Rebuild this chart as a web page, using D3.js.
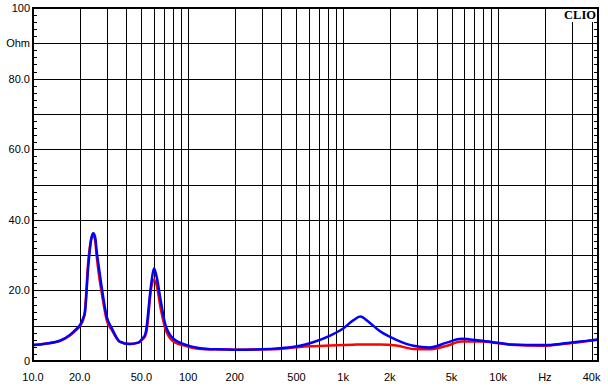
<!DOCTYPE html>
<html>
<head>
<meta charset="utf-8">
<script src="https://cdn.jsdelivr.net/npm/d3@7"></script>
<style>
  body { margin: 0; background: #fff; }
  svg { display: block; }
  text { font-family: "Liberation Sans", Arial, sans-serif; font-size: 11px; fill: #000; }
</style>
</head>
<body>
<svg id="chart" width="608" height="389"></svg>
<script>
// frequency points (Hz) shared by both traces
var freq = [10, 12, 15, 17.3, 19, 20.1, 21, 21.6, 22.7, 23.9, 24.5, 25.2, 25.7, 26.7, 27.7, 29.9, 32.2, 36.3,
    42, 47.8, 51, 52.8, 54, 55.5, 57, 58.3, 60.3, 62.7, 66.5, 71, 80, 98, 117, 150, 200, 300, 390, 527,
    640, 825, 1000, 1160, 1290, 1450, 1730, 2200, 2840, 3600, 4650, 5800, 7600, 9800, 12000, 19500,
    27000, 37000, 44000];

// impedance (Ohm), blue trace
var blueOhm = [4.5, 4.9, 5.8, 7.4, 9.0, 10.2, 12, 13.6, 26.7, 35.2, 36.2, 35, 31.4, 26, 21, 12.5, 9.3, 5.5,
    4.8, 5.2, 6.5, 7.4, 9.5, 14.4, 19.5, 23, 26.3, 23.9, 17.3, 10.7, 6.4, 4.5, 3.7, 3.3, 3.2, 3.3, 3.6, 4.3,
    5.3, 7.2, 9.2, 11.5, 12.6, 11.2, 8.4, 6.0, 4.3, 3.8, 5.2, 6.3, 5.8, 5.2, 4.7, 4.5, 5.0, 5.7, 6.1];

// impedance (Ohm), red trace
var redOhm = [4.5, 4.9, 5.7, 7.2, 8.8, 10, 11.5, 14, 28, 35, 35.5, 34, 30, 24, 19.5, 11.5, 8.8, 5.4,
    4.8, 5.2, 6.2, 7, 8.5, 13, 18.5, 21.5, 23.1, 21.5, 15, 9.5, 5.6, 4.2, 3.5, 3.3, 3.2, 3.3, 3.4, 4.0,
    4.2, 4.4, 4.5, 4.6, 4.7, 4.7, 4.7, 4.4, 3.4, 3.3, 4.3, 5.5, 5.5, 5.1, 4.6, 4.3, 4.9, 5.6, 6.0];

var xTickValues = [10, 20, 50, 100, 200, 500, 1000, 2000, 5000, 10000, 20000, 40000];
var xTickLabels = ["10.0", "20.0", "50.0", "100", "200", "500", "1k", "2k", "5k", "10k", "Hz", "40k"];
var yTickValues = [0, 20, 40, 60, 80, 90, 100];
var yTickLabels = ["0", "20.0", "40.0", "60.0", "80.0", "Ohm", "100"];

var svg = d3.select("#chart");
var margin = { top: 8, right: 10, bottom: 28, left: 33 };
var width = +svg.attr("width") - margin.left - margin.right;
var height = +svg.attr("height") - margin.top - margin.bottom;

var x = d3.scaleLog().domain([10, 44000]).range([0, width]);
var y = d3.scaleLinear().domain([0, 100]).range([height, 0]);

var g = svg.append("g").attr("transform", "translate(" + margin.left + "," + margin.top + ")");

// log grid: 2..9 of every decade
var gridF = [];
[10, 100, 1000, 10000].forEach(function (dec) {
    for (var k = 1; k < 10; k++) {
        var f = dec * k;
        if (f > 10 && f <= 40000) gridF.push(f);
    }
});

g.selectAll(".vgrid").data(gridF).enter().append("line")
    .attr("class", "vgrid")
    .attr("x1", d => Math.round(x(d)) + 0.5).attr("x2", d => Math.round(x(d)) + 0.5)
    .attr("y1", 0).attr("y2", height)
    .attr("stroke", "#000").attr("stroke-width", 1);

g.selectAll(".hgrid").data(d3.range(10, 100, 10)).enter().append("line")
    .attr("class", "hgrid")
    .attr("x1", 0).attr("x2", width)
    .attr("y1", d => Math.round(y(d)) + 0.5).attr("y2", d => Math.round(y(d)) + 0.5)
    .attr("stroke", "#000").attr("stroke-width", 1);

// minor ticks on left and right edges every 2 Ohm
var minor = d3.range(2, 100, 2).filter(d => d % 10 !== 0);
g.selectAll(".ltick").data(minor).enter().append("line")
    .attr("x1", 0).attr("x2", 4)
    .attr("y1", d => Math.round(y(d)) + 0.5).attr("y2", d => Math.round(y(d)) + 0.5)
    .attr("stroke", "#000");
g.selectAll(".rtick").data(minor).enter().append("line")
    .attr("x1", width - 4).attr("x2", width)
    .attr("y1", d => Math.round(y(d)) + 0.5).attr("y2", d => Math.round(y(d)) + 0.5)
    .attr("stroke", "#000");

// traces
var line = d3.line()
    .x((d, i) => x(freq[i]))
    .y(d => y(d))
    .curve(d3.curveMonotoneX);

g.append("path").datum(redOhm)
    .attr("fill", "none").attr("stroke", "#ff0000").attr("stroke-width", 2.5)
    .attr("d", line);
g.append("path").datum(blueOhm)
    .attr("fill", "none").attr("stroke", "#0000ff").attr("stroke-width", 2.5)
    .attr("d", line);

// frame
g.append("rect")
    .attr("x", 0).attr("y", 0).attr("width", width).attr("height", height)
    .attr("fill", "none").attr("stroke", "#000").attr("stroke-width", 2);

// CLIO badge
g.append("rect").attr("x", width - 36).attr("y", 1).attr("width", 35).attr("height", 13).attr("fill", "#fff");
g.append("text")
    .attr("x", width - 2).attr("y", 11)
    .attr("text-anchor", "end")
    .style("font-family", "'Liberation Serif', 'DejaVu Serif', serif")
    .style("font-weight", "bold").style("font-size", "12.5px")
    .text("CLIO");

// axis labels
g.selectAll(".ylab").data(yTickValues).enter().append("text")
    .attr("x", -3).attr("y", d => y(d) + 4)
    .attr("text-anchor", "end")
    .text((d, i) => yTickLabels[i]);

g.selectAll(".xlab").data(xTickValues).enter().append("text")
    .attr("x", d => x(d)).attr("y", height + 20)
    .attr("text-anchor", "middle")
    .text((d, i) => xTickLabels[i]);
</script>
</body>
</html>
